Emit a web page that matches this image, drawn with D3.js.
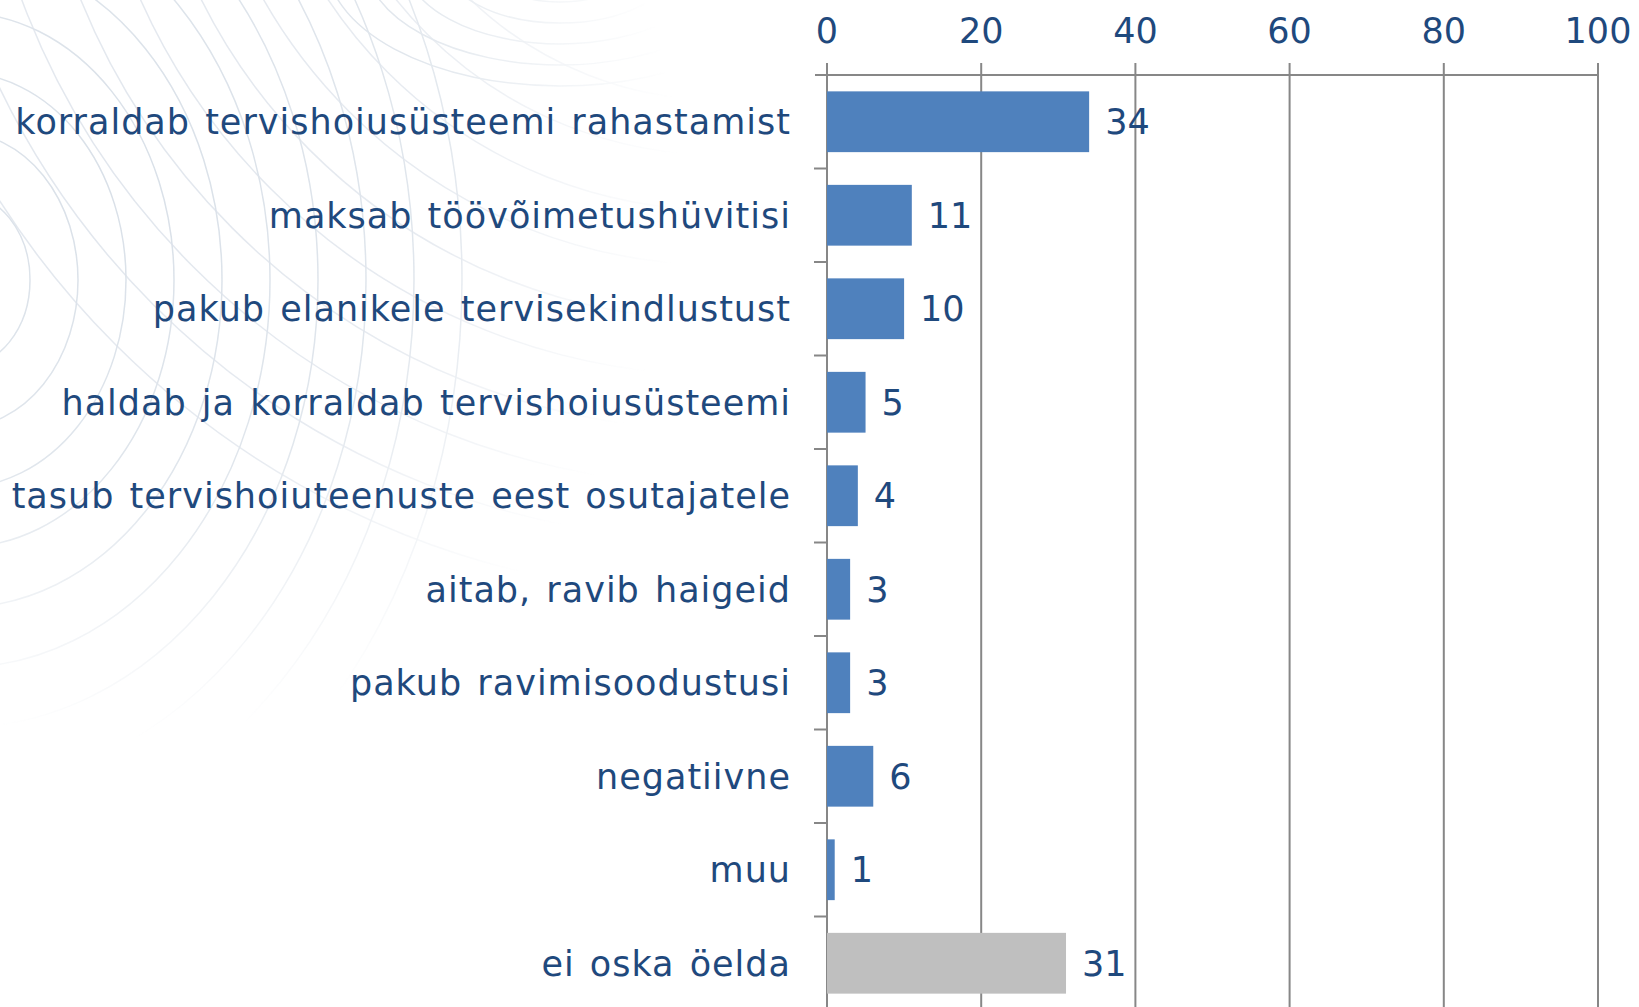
<!DOCTYPE html>
<html>
<head>
<meta charset="utf-8">
<script src="https://cdn.jsdelivr.net/npm/d3@7"></script>
<style>
  body { margin: 0; background: #ffffff; }
  svg { display: block; }
  text { font-family: "DejaVu Sans", Verdana, sans-serif; fill: #1f497d; }
</style>
</head>
<body>
<div id="chart"></div>
<script>
// Data
const categories = [
    'korraldab tervishoiusüsteemi rahastamist',
    'maksab töövõimetushüvitisi',
    'pakub elanikele tervisekindlustust',
    'haldab ja korraldab tervishoiusüsteemi',
    'tasub tervishoiuteenuste eest osutajatele',
    'aitab, ravib haigeid',
    'pakub ravimisoodustusi',
    'negatiivne',
    'muu',
    'ei oska öelda'
]
const values = [34, 11, 10, 5, 4, 3, 3, 6, 1, 31]
const xTicks = [0, 20, 40, 60, 80, 100]

const width = 1639
const height = 1007
const margin = {top: 75, left: 827, right: 41}

const svg = d3.select('#chart').append('svg')
    .attr('width', width)
    .attr('height', height)

// Faint line pattern in the background (top left)
const defs = svg.append('defs')
const grad = defs.append('radialGradient')
    .attr('id', 'fade')
    .attr('gradientUnits', 'userSpaceOnUse')
    .attr('cx', 120).attr('cy', 180).attr('r', 560)
grad.append('stop').attr('offset', '0%').attr('stop-color', '#fff').attr('stop-opacity', 1)
grad.append('stop').attr('offset', '55%').attr('stop-color', '#fff').attr('stop-opacity', 0.8)
grad.append('stop').attr('offset', '100%').attr('stop-color', '#fff').attr('stop-opacity', 0)
defs.append('mask').attr('id', 'decoMask')
    .append('rect').attr('x', 0).attr('y', 0).attr('width', 760).attr('height', 760)
    .attr('fill', 'url(#fade)')

const deco = svg.append('g')
    .attr('fill', 'none')
    .attr('stroke', '#d9e0e8')
    .attr('stroke-width', 1.5)
    .attr('mask', 'url(#decoMask)')

// nested ")" shaped arcs
d3.range(70, 520, 48).forEach(r => {
    deco.append('ellipse')
        .attr('cx', -40).attr('cy', 280)
        .attr('rx', r).attr('ry', r * 1.25)
})
// long sweeping arcs from the top right
d3.range(360, 900, 55).forEach(r => {
    deco.append('circle')
        .attr('cx', 720).attr('cy', -260)
        .attr('r', r)
        .attr('stroke-opacity', 0.8)
})
// small swoosh at the top
d3.range(60, 200, 30).forEach(r => {
    deco.append('ellipse')
        .attr('cx', 560).attr('cy', -40)
        .attr('rx', r * 1.3).attr('ry', r * 0.7)
})

// Scales
const xScale = d3.scaleLinear()
    .domain([0, 100])
    .range([margin.left, width - margin.right])

const yScale = d3.scaleBand()
    .domain(categories)
    .range([margin.top, margin.top + categories.length * 93.5])
    .paddingInner(0.35)
    .paddingOuter(0.175)

const gridColor = '#878787'

// Vertical grid lines (incl. small ticks above axis line)
svg.append('g')
    .selectAll('line')
    .data(xTicks)
    .join('line')
    .attr('x1', d => xScale(d)).attr('x2', d => xScale(d))
    .attr('y1', margin.top - 12).attr('y2', height)
    .attr('stroke', gridColor)
    .attr('stroke-width', 2)

// Top axis line
svg.append('line')
    .attr('x1', margin.left - 12).attr('x2', xScale(100))
    .attr('y1', margin.top).attr('y2', margin.top)
    .attr('stroke', gridColor)
    .attr('stroke-width', 2)

// Tick labels
svg.append('g')
    .selectAll('text')
    .data(xTicks)
    .join('text')
    .attr('x', d => xScale(d))
    .attr('y', 43)
    .attr('text-anchor', 'middle')
    .style('font-size', '35px')
    .text(d => d)

// Category tick marks on the left
const step = yScale.step()
svg.append('g')
    .selectAll('line')
    .data(categories)
    .join('line')
    .attr('x1', margin.left - 13).attr('x2', margin.left)
    .attr('y1', d => yScale(d) - yScale.paddingOuter() * step + step)
    .attr('y2', d => yScale(d) - yScale.paddingOuter() * step + step)
    .attr('stroke', gridColor)
    .attr('stroke-width', 2)

// Bars
svg.append('g')
    .selectAll('rect')
    .data(values)
    .join('rect')
    .attr('x', xScale(0))
    .attr('y', (d, i) => yScale(categories[i]))
    .attr('width', d => xScale(d) - xScale(0))
    .attr('height', yScale.bandwidth())
    .attr('fill', (d, i) => i == categories.length - 1 ? '#bfbfbf' : '#4f81bd')

// Value labels
svg.append('g')
    .selectAll('text')
    .data(values)
    .join('text')
    .attr('x', d => xScale(d) + 16)
    .attr('y', (d, i) => yScale(categories[i]) + yScale.bandwidth() / 2)
    .attr('dy', '0.36em')
    .style('font-size', '35px')
    .text(d => d)

// Category labels
svg.append('g')
    .selectAll('text')
    .data(categories)
    .join('text')
    .attr('x', margin.left - 36)
    .attr('y', d => yScale(d) + yScale.bandwidth() / 2)
    .attr('dy', '0.36em')
    .attr('text-anchor', 'end')
    .style('font-size', '35px')
    .style('letter-spacing', '1px')
    .style('word-spacing', '3px')
    .text(d => d)
</script>
</body>
</html>
